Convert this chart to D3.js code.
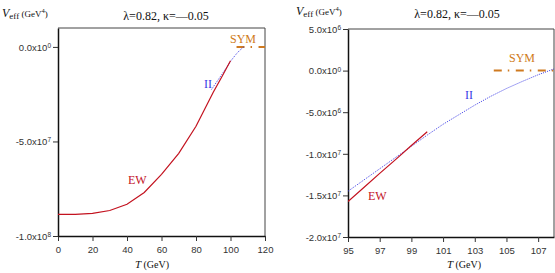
<!DOCTYPE html>
<html>
<head>
<meta charset="utf-8">
<script src="https://cdn.jsdelivr.net/npm/d3@7/dist/d3.min.js"></script>
<style>
  body { margin: 0; background: #fff; }
  svg { display: block; }
  .tk text { font-family: "Liberation Sans", Arial, sans-serif; font-size: 9.5px; fill: #333; }
  .serif { font-family: "Liberation Serif", "Times New Roman", serif; }
</style>
</head>
<body>
<svg id="chart" width="555" height="273"></svg>
<script>
// left panel: wide range
const ewWideT = [0, 10, 20, 30, 40, 50, 60, 70, 80, 90, 95, 100];
const ewWideV = [-8.86e7, -8.86e7, -8.8e7, -8.65e7, -8.32e7, -7.7e7, -6.74e7, -5.63e7, -4.2e7, -2.4e7, -1.575e7, -7.35e6];

// right panel: zoom on transition
const ewT = [95, 96, 97, 98, 99, 100];
const ewV = [-1.575e7, -1.405e7, -1.235e7, -1.07e7, -9.0e6, -7.35e6];

const iiT = [89, 91, 93, 95, 96, 97, 98, 99, 100, 101, 102, 103, 104, 105, 106, 107, 108];
const iiV = [-2.25e7, -1.98e7, -1.72e7, -1.45e7, -1.315e7, -1.18e7, -1.045e7, -9.1e6, -7.75e6, -6.45e6, -5.3e6, -4.15e6, -3.1e6, -2.15e6, -1.3e6, -0.5e6, 0.2e6];

const symLeftT = [103.5, 120];
const symRightT = [104.2, 108];

const leftXTicks = [0, 20, 40, 60, 80, 100, 120];
const leftYTicks = [0, -5e7, -1e8];
const rightXTicks = [95, 97, 99, 101, 103, 105, 107];
const rightYTicks = [5e6, 0, -5e6, -1e7, -1.5e7, -2e7];

const title = "λ=0.82, κ=—0.05";

const svg = d3.select('#chart');

const red = '#c3121f', blue = '#3a3ae6', orange = '#cf7a20';

function zip(ts, vs) { return ts.map((t, i) => ({ t: t, v: vs[i] })); }

function sci(v) {
  if (v === 0) return ['0.0', '0'];
  const e = Math.floor(Math.log10(Math.abs(v)));
  const m = v / Math.pow(10, e);
  return [m.toFixed(1), String(e)];
}

function panel(cfg) {
  const x = d3.scaleLinear().domain(cfg.xd).range([cfg.x0, cfg.x1]);
  const y = d3.scaleLinear().domain(cfg.yd).range([cfg.y1, cfg.y0]);
  const g = svg.append('g');

  const clipId = 'clip' + cfg.id;
  svg.append('clipPath').attr('id', clipId)
    .append('rect').attr('x', cfg.x0).attr('y', cfg.y0)
    .attr('width', cfg.x1 - cfg.x0).attr('height', cfg.y1 - cfg.y0);

  // frame
  g.append('line').attr('x1', cfg.x0).attr('x2', cfg.x1).attr('y1', cfg.y0).attr('y2', cfg.y0)
    .attr('stroke', '#444').attr('stroke-width', 1);
  g.append('line').attr('x1', cfg.x1).attr('x2', cfg.x1).attr('y1', cfg.y0).attr('y2', cfg.y1)
    .attr('stroke', '#444').attr('stroke-width', 1);

  const ax = g.append('g').attr('class', 'tk')
    .attr('transform', `translate(0,${cfg.y1})`)
    .call(d3.axisBottom(x).tickValues(cfg.xt).tickSize(5).tickSizeOuter(0));
  ax.select('.domain').attr('stroke', '#111').attr('stroke-width', 1.5);
  ax.selectAll('.tick line').attr('stroke', '#333');
  ax.selectAll('.tick text').attr('dy', '0.9em');

  const ay = g.append('g').attr('class', 'tk')
    .attr('transform', `translate(${cfg.x0},0)`)
    .call(d3.axisLeft(y).tickValues(cfg.yt).tickSize(5).tickSizeOuter(0).tickFormat(''));
  ay.select('.domain').attr('stroke', '#111').attr('stroke-width', 1.5);
  ay.selectAll('.tick line').attr('stroke', '#333');
  ay.selectAll('.tick').each(function(d) {
    const p = sci(d);
    const t = d3.select(this).select('text').attr('x', -7).attr('dy', '0.35em');
    t.append('tspan').text(p[0] + 'x10');
    t.append('tspan').attr('dy', '-0.45em').attr('font-size', '6.5px').text(p[1]);
  });

  const line = d3.line().x(d => x(d.t)).y(d => y(d.v));
  const plot = g.append('g').attr('clip-path', `url(#${clipId})`);

  plot.append('path').datum(cfg.sym.map(t => ({ t: t, v: 0 })))
    .attr('fill', 'none').attr('stroke', orange).attr('stroke-width', 2)
    .attr('stroke-dasharray', '8,6,1.5,6.5').attr('d', line);
  plot.append('path').datum(zip(iiT, iiV).filter(d => d.t >= cfg.iiFrom))
    .attr('fill', 'none').attr('stroke', blue).attr('stroke-width', 1)
    .attr('stroke-dasharray', '1,1.2').attr('d', line);
  plot.append('path').datum(zip(cfg.ewT, cfg.ewV))
    .attr('fill', 'none').attr('stroke', red).attr('stroke-width', 1.2).attr('d', line);

  // labels
  const lab = (txt, px, py, col) => g.append('text').attr('class', 'serif')
    .attr('x', px).attr('y', py).attr('font-size', '12px').attr('fill', col).text(txt);
  lab('EW', cfg.ew[0], cfg.ew[1], red);
  lab('II', cfg.ii[0], cfg.ii[1], blue);
  lab('SYM', cfg.symL[0], cfg.symL[1], orange);

  g.append('text').attr('class', 'serif').attr('x', cfg.title[0]).attr('y', cfg.title[1])
    .attr('text-anchor', 'middle').attr('font-size', '12px').attr('fill', '#111').text(title);

  const yl = g.append('text').attr('class', 'serif').attr('x', cfg.ylab[0]).attr('y', cfg.ylab[1])
    .attr('fill', '#111').attr('font-size', '11px');
  yl.append('tspan').attr('font-style', 'italic').attr('font-size', '12px').text('V');
  yl.append('tspan').attr('dy', '2').attr('font-size', '9px').text('eff');
  yl.append('tspan').attr('dy', '-2').attr('font-size', '9px').text(' (GeV');
  yl.append('tspan').attr('dy', '-4').attr('font-size', '6.5px').text('4');
  yl.append('tspan').attr('dy', '4').attr('font-size', '9px').text(')');

  const xl = g.append('text').attr('class', 'serif').attr('x', cfg.xlab[0]).attr('y', cfg.xlab[1])
    .attr('text-anchor', 'middle').attr('fill', '#111').attr('font-size', '10px');
  xl.append('tspan').attr('font-style', 'italic').attr('font-size', '11px').text('T');
  xl.append('tspan').text(' (GeV)');
}

panel({
  id: 'L', xd: [0, 120], yd: [-1e8, 1e7], x0: 58, x1: 265, y0: 28, y1: 236,
  xt: leftXTicks, yt: leftYTicks, ewT: ewWideT, ewV: ewWideV, iiFrom: 89,
  sym: symLeftT, ew: [128, 184], ii: [204, 88], symL: [230, 43],
  title: [166, 20], ylab: [2, 17], xlab: [152, 268]
});

panel({
  id: 'R', xd: [95, 108], yd: [-2e7, 5e6], x0: 348, x1: 554, y0: 29, y1: 237,
  xt: rightXTicks, yt: rightYTicks, ewT: ewT, ewV: ewV, iiFrom: 95,
  sym: symRightT, ew: [368, 200], ii: [465, 99], symL: [509, 62],
  title: [457, 18], ylab: [296, 15], xlab: [464, 268]
});
</script>
</body>
</html>
